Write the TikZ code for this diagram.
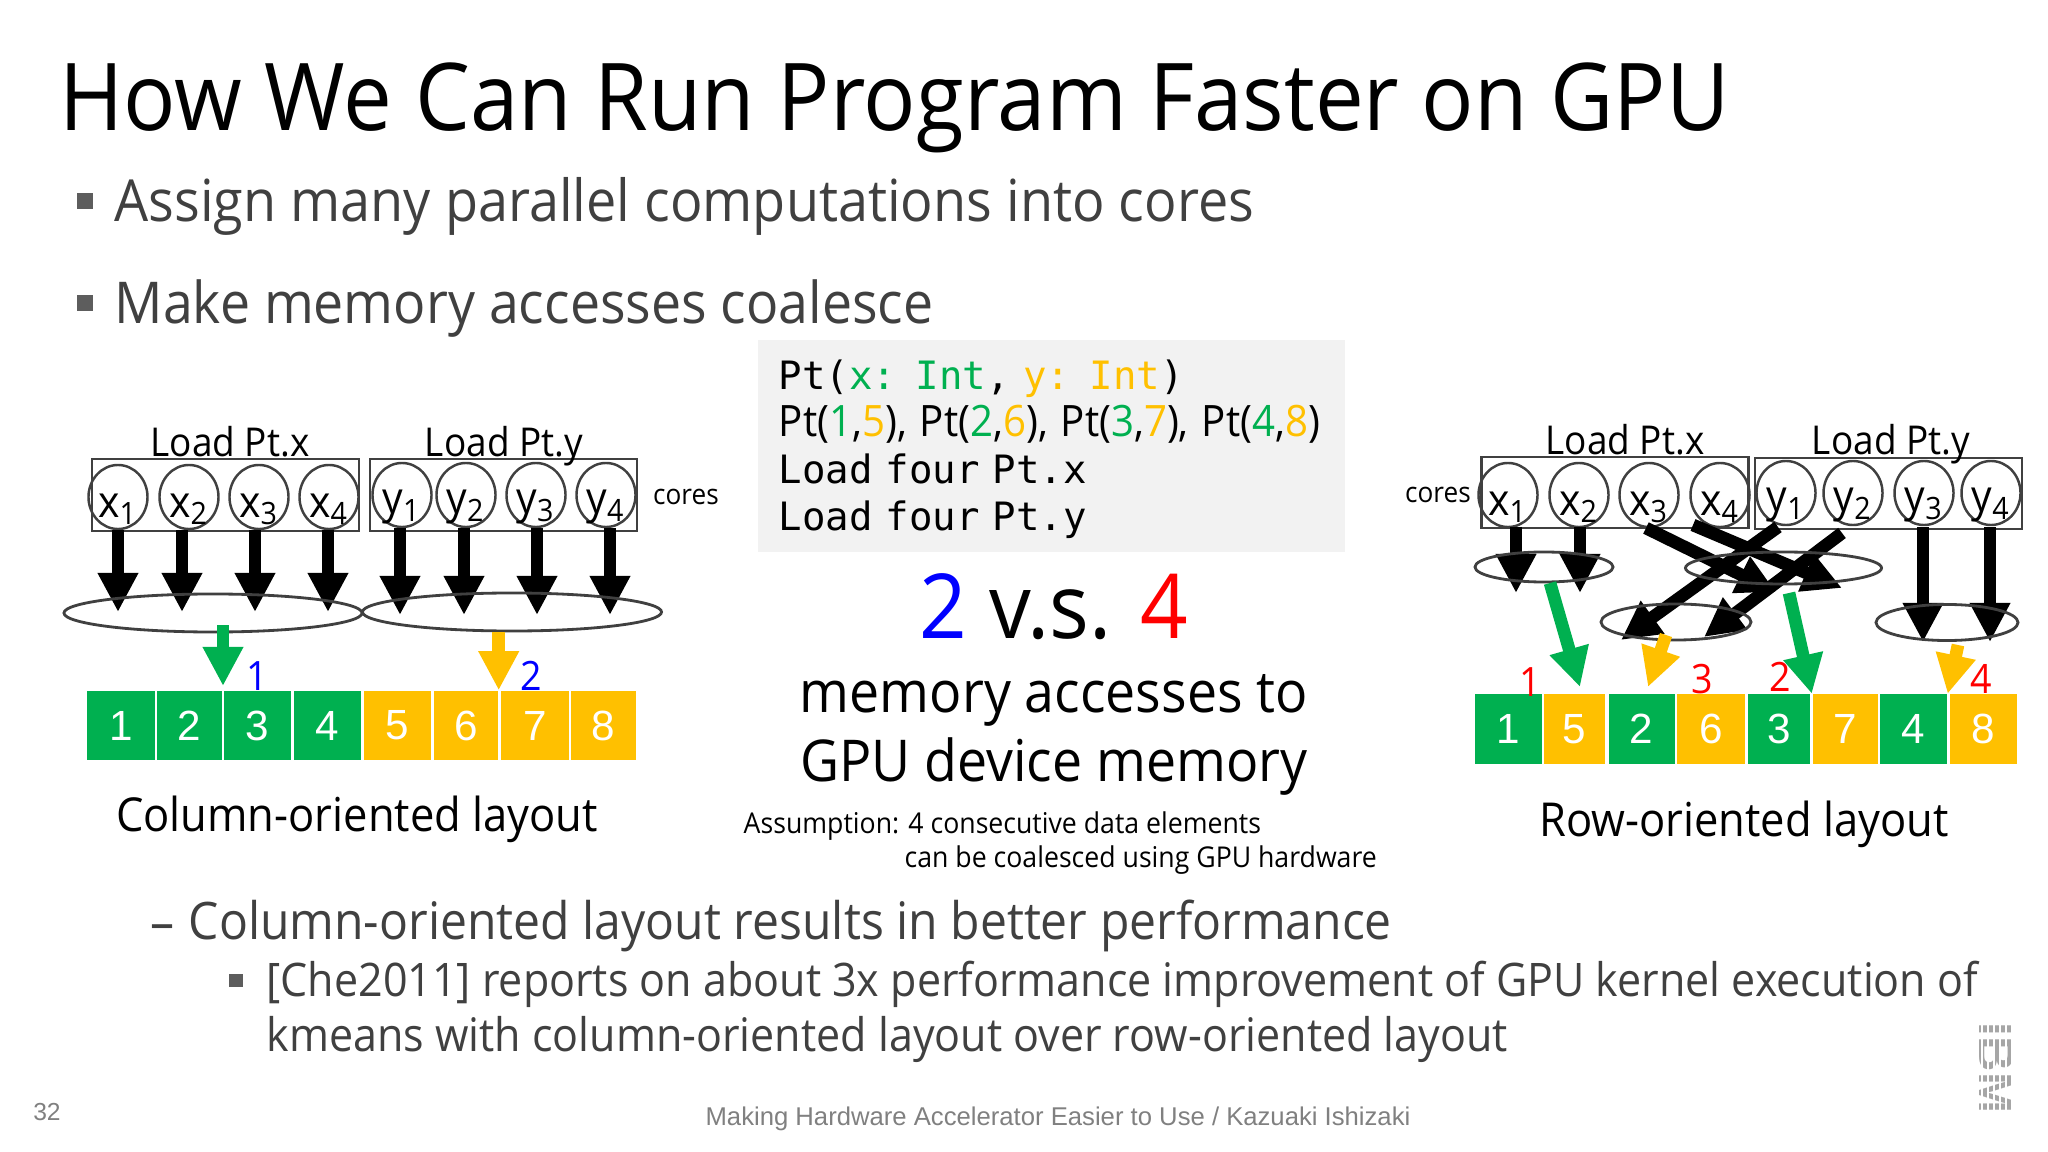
\documentclass[tikz,border=0pt]{standalone}
\usepackage{fontspec}
\setmainfont{Open Sans}[FakeStretch=0.93]
\newfontfamily\arialfont{Liberation Sans}
\newfontfamily\codefont{DejaVu Sans Mono}
\usetikzlibrary{shapes.geometric, positioning, arrows.meta}
\definecolor{ptgreen}{HTML}{00B050}
\definecolor{ptyellow}{HTML}{FFC000}
\definecolor{bodygray}{HTML}{404040}
\newdimen\pxu
\pxu=0.2845pt % one pixel of the slide
\tikzset{
x=0.01cm, % one unit is one pixel of the slide
y=-0.01cm, % y runs downwards, as in the slide
core/.style={ellipse, draw=bodygray, line width=0.7pt, inner sep=0pt, minimum width=59\pxu, minimum height=64\pxu},
corelabel/.style={inner sep=0pt, font=\fontsize{12.5}{13}\selectfont},
group/.style={draw=bodygray, line width=0.8pt, inner sep=0pt, minimum width=267\pxu, minimum height=72\pxu},
coalesce/.style={ellipse, draw=bodygray, line width=0.8pt, inner sep=0pt},
fatarrow/.style={line width=3.6pt, -{Triangle[width=10.8pt, length=11.1pt]}},
cell/.style={inner sep=0pt, minimum height=69\pxu, text=white, font=\arialfont\fontsize{12}{12}\selectfont},
heading/.style={inner sep=0pt, anchor=base, font=\fontsize{11.3}{12}\selectfont},
small/.style={inner sep=0pt, font=\fontsize{8}{9}\selectfont},
count/.style={inner sep=0pt, font=\fontsize{11.5}{12}\selectfont},
caption/.style={inner sep=0pt, font=\fontsize{13.3}{14}\selectfont},
bullet/.style={fill=bodygray!85, inner sep=0pt, minimum size=#1\pxu},
bodytext/.style={inner sep=0pt, anchor=west, text=bodygray, font=\fontsize{#1}{#1}\selectfont},
}

\begin{document}
\begin{tikzpicture}
\useasboundingbox (0,0) rectangle (2048,1152);

% title and upper bullets
\node[inner sep=0pt, anchor=west, font=\fontsize{26.6}{30}\selectfont] (title) at (59,108) {How We Can Run Program Faster on GPU};
\node[bullet=16] (b1) at (85,201) {};
\node[bodytext=16.5] (t1) at (114,206) {Assign many parallel computations into cores};
\node[bullet=16] (b2) at (85,303) {};
\node[bodytext=16.4] (t2) at (114,309) {Make memory accesses coalesce};

% left: column-oriented
\node[group] (gx) at (225.5,495) {};
\node[group] (gy) at (503.5,495) {};
\node[heading] (hx) at (230,457) {Load Pt.x};
\node[heading] (hy) at (504,457) {Load Pt.y};
\node[small] (cl) at (686,497) {cores};
\foreach \n/\cx/\ax in {1/118/118, 2/189/182, 3/259/255, 4/329/328} {
    \node[core] (cx\n) at (\cx,497) {};
    \node[corelabel] (lx\n) at ([yshift=-3.5pt]cx\n) {x\textsubscript{\n}};
    \coordinate (tx\n) at (\ax,612);
    \draw[fatarrow] (cx\n.south -| tx\n) -- (tx\n);
}
\foreach \n/\cx/\ax in {1/402/400, 2/466/464, 3/536/537, 4/606/610} {
    \node[core] (cy\n) at (\cx,495) {};
    \node[corelabel] (ly\n) at ([yshift=-3.5pt]cy\n) {y\textsubscript{\n}};
    \coordinate (ty\n) at (\ax,615);
    \draw[fatarrow] (cy\n.south -| ty\n) -- (ty\n);
}
\node[coalesce, minimum width=298\pxu, minimum height=38\pxu] (ex) at (213,613) {};
\node[coalesce, minimum width=299\pxu, minimum height=38\pxu] (ey) at (512,612) {};
\foreach \n/\c/\w/\f in {1/121/68/ptgreen, 2/189.5/65/ptgreen, 3/257.5/67/ptgreen, 4/327.5/67/ptgreen, 5/397.5/67/ptyellow, 6/466/64/ptyellow, 7/535/68/ptyellow, 8/603.5/65/ptyellow}
    \node[cell, fill=\f, minimum width=\w\pxu] (m\n) at (\c,725.5) {\n};
\coordinate (ga) at (223,686);
\coordinate (ya) at (m6.north east);
\draw[fatarrow, ptgreen] (ga |- ex.south) ++(0,-8) -- (ga);
\draw[fatarrow, ptyellow] (ya |- ey.south) -- (ya);
\node[count, text=blue] (n1) at (257,676) {1};
\node[count, text=blue] (n2) at (531,676) {2};
\node[caption] (cc) at (357,819) {Column-oriented layout};

% centre
\node[fill=black!5, inner sep=0pt, minimum width=587\pxu, minimum height=212\pxu] (codebox) at (1051.5,446) {};
\node[inner sep=0pt, text width=155pt, align=left, font=\codefont\fontsize{11.1}{13.4}\selectfont] (code) at ([yshift=-1pt]codebox) {%
Pt(\textcolor{ptgreen}{x: Int}, \textcolor{ptyellow}{y: Int})\\
{\rmfamily\fontsize{12.3}{13.4}\selectfont Pt(\textcolor{ptgreen}{1},\textcolor{ptyellow}{5}), Pt(\textcolor{ptgreen}{2},\textcolor{ptyellow}{6}), Pt(\textcolor{ptgreen}{3},\textcolor{ptyellow}{7}), Pt(\textcolor{ptgreen}{4},\textcolor{ptyellow}{8})}\\
Load four Pt.x\\
Load four Pt.y};
\node[inner sep=0pt, font=\fontsize{25.5}{28}\selectfont] (vs) at (1054,607) {\textcolor{blue}{2} v.s. \textcolor{red}{4}};
\node[inner sep=0pt, font=\fontsize{16.4}{18}\selectfont] (mem1) at (1054,700) {memory accesses to};
\node[inner sep=0pt, font=\fontsize{16.4}{18}\selectfont] (mem2) at (1054,767) {GPU device memory};
\node[inner sep=0pt, anchor=west, font=\fontsize{8.15}{9}\selectfont] (note1) at (743,826) {Assumption: 4 consecutive data elements};
\node[inner sep=0pt, anchor=west, font=\fontsize{8.15}{9}\selectfont] (note2) at (904,860) {can be coalesced using GPU hardware};

% right: row-oriented
\node[group, minimum height=71\pxu] (rgx) at (1615,492.5) {};
\node[group, minimum height=71\pxu] (rgy) at (1888.5,493.5) {};
\node[heading] (rhx) at (1625,455) {Load Pt.x};
\node[heading] (rhy) at (1891,455) {Load Pt.y};
\node[small] (cr) at (1438,495) {cores};
\foreach \n/\cx in {1/1508, 2/1579, 3/1649, 4/1720} {
    \node[core] (rx\n) at (\cx,495) {};
    \node[corelabel] (rlx\n) at ([yshift=-3.5pt]rx\n) {x\textsubscript{\n}};
}
\foreach \n/\cx in {1/1786, 2/1853, 3/1924, 4/1991} {
    \node[core] (ry\n) at (\cx,493) {};
    \node[corelabel] (rly\n) at ([yshift=-3.5pt]ry\n) {y\textsubscript{\n}};
}
\foreach \n/\c/\w/\f/\l in {1/1508/67/ptgreen/1, 2/1574.7/61/ptyellow/5, 3/1641.6/66/ptgreen/2, 4/1711/68/ptyellow/6, 5/1779/62/ptgreen/3, 6/1845/65/ptyellow/7, 7/1913.5/67/ptgreen/4, 8/1983.3/67/ptyellow/8}
    \node[cell, fill=\f, minimum width=\w\pxu] (rm\n) at (\c,729) {\l};
\coordinate (a1) at (1516,527);
\coordinate (a2) at (1580,527);
\coordinate (a3) at (1646,528);
\coordinate (a4) at (1693,525);
\coordinate (a5) at (1778,527);
\coordinate (a6) at (1842,533);
\coordinate (a7) at (1923,527);
\coordinate (a8) at (1990,527);
\coordinate (z1) at (1516,593);
\coordinate (z2) at (1580,593);
\coordinate (z3) at (1776,592);
\coordinate (z4) at (1842,588);
\coordinate (z5) at (1621,640);
\coordinate (z6) at (1704,637);
\coordinate (z7) at (1923,642);
\coordinate (z8) at (1990,642);
\foreach \n in {1,...,8}
    \draw[fatarrow] (a\n) -- (z\n);
\node[coalesce, minimum width=138\pxu, minimum height=30\pxu] (r1) at (1544,567) {};
\node[coalesce, minimum width=196\pxu, minimum height=32\pxu] (r2) at (1783.5,568) {};
\node[coalesce, minimum width=150\pxu, minimum height=36\pxu] (r3) at (1676,622) {};
\node[coalesce, minimum width=142\pxu, minimum height=36\pxu] (r4) at (1947,622.5) {};
\coordinate (g1) at (1550,583);
\coordinate (g2) at (1789,593);
\coordinate (g3) at (1580,687);
\coordinate (o1) at (1666,635);
\coordinate (o2) at (1958,645);
\coordinate (o3) at (1648,687);
\draw[fatarrow, ptgreen] (g1) -- (g3);
\draw[fatarrow, ptgreen] (g2) -- (rm6.north west);
\draw[fatarrow, ptyellow] (o1) -- (o3);
\draw[fatarrow, ptyellow] (o2) -- (rm7.north east);
\node[count, text=red] (c1) at (1530,682) {1};
\node[count, text=red] (c3) at (1702.5,679) {3};
\node[count, text=red] (c2) at (1780.5,677) {2};
\node[count, text=red] (c4) at (1981,679) {4};
\node[caption] (rc) at (1744,824) {Row-oriented layout};

% lower bullets
\node[inner sep=0pt, text=bodygray, font=\fontsize{14.7}{16}\selectfont] (d1) at (163,933) {–};
\node[bodytext=14.7] (t3) at (188,926) {Column-oriented layout results in better performance};
\node[bullet=13] (b3) at (236,980) {};
\node[bodytext=13.15] (t4) at (266,984) {[Che2011] reports on about 3x performance improvement of GPU kernel execution of};
\node[bodytext=13.15] (t5) at (266,1039) {kmeans with column-oriented layout over row-oriented layout};

% footer
\node[inner sep=0pt, text=black!50, font=\arialfont\fontsize{7}{9}\selectfont] (page) at (47,1112) {32};
\node[inner sep=0pt, text=black!50, font=\arialfont\fontsize{7.3}{9}\selectfont] (foot) at (1058,1119) {Making Hardware Accelerator Easier to Use / Kazuaki Ishizaki};
\node[rotate=-90, inner sep=0pt, text=black!35, font=\arialfont\bfseries\fontsize{14}{14}\selectfont] (logo) at (1996,1068) {IBM};
\foreach \s in {1982,1988,...,2012}
    \draw[white, line width=0.6pt] (\s,1015) -- (\s,1120);
\end{tikzpicture}
\end{document}
